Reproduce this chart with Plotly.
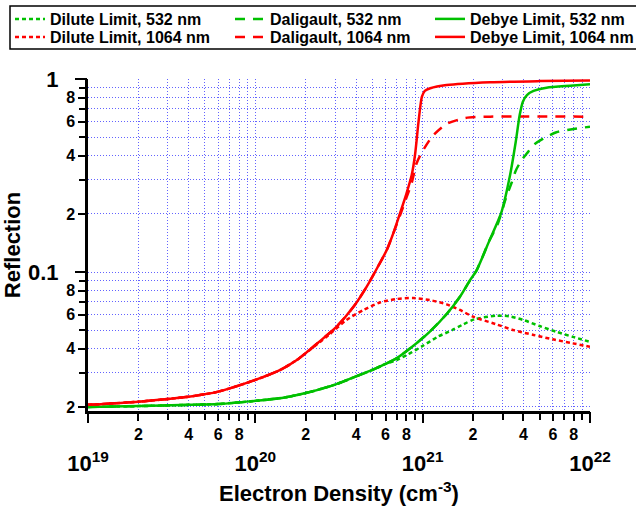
import plotly.graph_objects as go

# ---------------- data ----------------
# 532 nm: part shared by all three models at low density
g_low_n = [1e19, 2e19, 4e19, 6e19, 1e20, 1.5e20, 2e20, 3e20, 4e20, 5e20, 6e20]
g_low_R = [0.0200, 0.0202, 0.0205, 0.0207, 0.0215, 0.0224, 0.0236, 0.0261, 0.0288, 0.0311, 0.0334]

# Debye limit 532 nm
debye532_n = g_low_n + [7e20, 8.8e20, 1.1e21, 1.4e21, 1.67e21, 1.92e21, 2.1e21, 2.5e21,
                        2.96e21, 3.33e21, 3.6e21, 3.8e21, 3.97e21, 4.2e21, 4.6e21, 5.5e21, 7.6e21, 1e22]
debye532_R = g_low_R + [0.0358, 0.0415, 0.049, 0.061, 0.0745, 0.0908, 0.102, 0.145,
                        0.205, 0.318, 0.473, 0.65, 0.763, 0.826, 0.867, 0.902, 0.923, 0.938]

# Daligault 532 nm
dali532_n = debye532_n[:19] + [2.8e21, 3.16e21, 3.4e21, 3.6e21, 3.9e21, 4.2e21, 4.6e21, 5.3e21, 6.3e21, 8e21, 1e22]
dali532_R = debye532_R[:19] + [0.176, 0.245, 0.29, 0.335, 0.38, 0.412, 0.455, 0.493, 0.53, 0.551, 0.566]

# Dilute limit 532 nm
dil532_n = g_low_n + [7e20, 8.2e20, 1e21, 1.23e21, 1.5e21, 1.75e21, 2.04e21, 2.76e21, 3.3e21, 4e21, 5e21, 6.3e21, 8e21, 1e22]
dil532_R = g_low_R + [0.0350, 0.0375, 0.0414, 0.0462, 0.050, 0.0536, 0.0569, 0.0594, 0.059, 0.0564, 0.0525, 0.049, 0.046, 0.0435]

# 1064 nm: shared low-density part
r_low_n = [1e19, 2e19, 3e19, 4e19, 6e19, 1e20, 1.4e20, 1.77e20, 2e20]
r_low_R = [0.0205, 0.0213, 0.0220, 0.0226, 0.0240, 0.0276, 0.031, 0.035, 0.038]

# Debye limit 1064 nm
debye1064_n = r_low_n + [2.33e20, 3.05e20, 3.86e20, 4.63e20, 5.4e20, 6.1e20, 6.68e20,
                         7.3e20, 8.0e20, 8.6e20, 9.0e20, 9.4e20, 9.65e20, 9.9e20, 1.03e21, 1.11e21,
                         1.39e21, 2.53e21, 5e21, 1e22]
debye1064_R = r_low_R + [0.0425, 0.052, 0.066, 0.084, 0.1066, 0.13, 0.159,
                         0.20, 0.255, 0.318, 0.404, 0.578, 0.705, 0.81, 0.867, 0.895,
                         0.93, 0.962, 0.975, 0.982]

# Daligault 1064 nm
dali1064_n = debye1064_n[:16] + [7.3e20, 8.0e20, 8.6e20, 9.2e20, 9.9e20, 1.15e21, 1.39e21, 1.8e21, 2.53e21, 1e22]
dali1064_R = debye1064_R[:16] + [0.195, 0.243, 0.29, 0.366, 0.417, 0.508, 0.585, 0.628, 0.638, 0.638]

# Dilute limit 1064 nm
dil1064_n = r_low_n + [2.75e20, 3.5e20, 4.44e20, 5.6e20, 7.0e20, 8.8e20, 1.1e21, 1.39e21, 1.67e21,
                       2.0e21, 2.72e21, 3.5e21, 4.6e21, 6.0e21, 7.9e21, 1e22]
dil1064_R = r_low_R + [0.0472, 0.0564, 0.0636, 0.0697, 0.0725, 0.0733, 0.0716, 0.068, 0.0636,
                       0.0587, 0.0538, 0.050, 0.0472, 0.0448, 0.0427, 0.041]

# tick values / labels
x_lab_vals = [m * 10.0 ** e for e in (19, 20, 21) for m in (2, 4, 6, 8)]
x_lab_text = [str(m) for e in (19, 20, 21) for m in (2, 4, 6, 8)]
x_other_vals = [m * 10.0 ** e for e in (19, 20, 21) for m in (1, 3, 5, 7, 9)] + [1e22]
x_major_vals = [1e19, 1e20, 1e21, 1e22]
x_major_text = ["10<sup>19</sup>", "10<sup>20</sup>", "10<sup>21</sup>", "10<sup>22</sup>"]

y_lab_vals = [m * 10.0 ** e for e in (-2, -1) for m in (2, 4, 6, 8)]
y_lab_text = [str(m) for e in (-2, -1) for m in (2, 4, 6, 8)]
y_other_vals = [m * 10.0 ** e for e in (-2, -1) for m in (3, 5, 7, 9)] + [0.1, 1.0]
y_major_vals = [0.1, 1.0]
y_major_text = ["0.1", "1"]

# ---------------- figure ----------------
FONT = "Liberation Sans, Arial, Helvetica, sans-serif"
GREEN = "#00c000"
RED = "#ff0000"
DOT = "4px,3px"
DASH = "10px,8px"

fig = go.Figure()


def add(name, n, R, color, dash, legend):
    fig.add_trace(go.Scatter(x=n, y=R, mode="lines", name=name, legend=legend,
                             line=dict(color=color, width=2.5, dash=dash, shape="spline", smoothing=0.7)))


add("Dilute Limit, 532 nm", dil532_n, dil532_R, GREEN, DOT, "legend")
add("Dilute Limit, 1064 nm", dil1064_n, dil1064_R, RED, DOT, "legend2")
add("Daligault, 532 nm", dali532_n, dali532_R, GREEN, DASH, "legend3")
add("Daligault, 1064 nm", dali1064_n, dali1064_R, RED, DASH, "legend4")
add("Debye Limit, 532 nm", debye532_n, debye532_R, GREEN, "solid", "legend5")
add("Debye Limit, 1064 nm", debye1064_n, debye1064_R, RED, "solid", "legend6")

# invisible trace to activate the overlay axes
fig.add_trace(go.Scatter(x=[1e19], y=[0.1], xaxis="x2", yaxis="y2", mode="markers",
                         marker=dict(opacity=0), showlegend=False, hoverinfo="skip"))

GRID = "rgba(60,60,255,0.8)"
bold = dict(family=FONT, color="black", weight="bold")
minor_common = dict(ticks="outside", ticklen=6, tickwidth=2, tickcolor="black",
                    showgrid=True, gridcolor=GRID, gridwidth=1, griddash="1px,2px")

# legend placement (plot area: x 88..590 px, y 79..411 px)
PW, PH, L, B = 502.0, 332.0, 88.0, 411.0
def px_x(p):
    return (p - L) / PW
def px_y(p):
    return (B - p) / PH

col_x = [10, 230, 430]
row_y = [19, 37]
legends = {}
k = 1
for c in col_x:
    for r in row_y:
        key = "legend" if k == 1 else "legend%d" % k
        legends[key] = dict(x=px_x(c), y=px_y(r), xanchor="left", yanchor="middle",
                            bgcolor="rgba(0,0,0,0)", borderwidth=0,
                            font=dict(size=16, **bold), itemwidth=30)
        k += 1

fig.update_layout(
    width=636, height=512,
    margin=dict(l=88, r=46, t=79, b=101, autoexpand=False),
    paper_bgcolor="white", plot_bgcolor="white",
    font=dict(family=FONT, color="black", weight="bold"),
    xaxis=dict(type="log", range=[19, 22], tickmode="array", tickvals=x_lab_vals, ticktext=x_lab_text,
               ticks="outside", ticklen=7, tickwidth=2, tickcolor="black",
               showline=True, linewidth=2.5, linecolor="black",
               showgrid=True, gridcolor=GRID, gridwidth=1, griddash="1px,2px",
               minor=dict(tickmode="array", tickvals=x_other_vals, **minor_common),
               zeroline=False, automargin=False, tickfont=dict(size=16, **bold)),
    xaxis2=dict(type="log", range=[19, 22], overlaying="x", anchor="y", side="bottom",
                tickmode="array", tickvals=x_major_vals, ticktext=x_major_text,
                ticks="outside", ticklen=11, tickwidth=2, tickcolor="black",
                showline=False, showgrid=False, zeroline=False, ticklabelstandoff=22,
                automargin=False, tickfont=dict(size=22, **bold),
                title=dict(text="Electron Density (cm<sup>-3</sup>)", font=dict(size=22, **bold), standoff=10)),
    yaxis=dict(type="log", range=[-1.72, 0], tickmode="array", tickvals=y_lab_vals, ticktext=y_lab_text,
               ticks="outside", ticklen=7, tickwidth=2, tickcolor="black",
               showline=True, linewidth=2.5, linecolor="black",
               showgrid=True, gridcolor=GRID, gridwidth=1, griddash="1px,2px",
               minor=dict(tickmode="array", tickvals=y_other_vals, **minor_common),
               zeroline=False, automargin=False, tickfont=dict(size=16, **bold)),
    yaxis2=dict(type="log", range=[-1.72, 0], overlaying="y", anchor="x", side="left",
                tickmode="array", tickvals=y_major_vals, ticktext=y_major_text,
                ticks="outside", ticklen=12, tickwidth=2, tickcolor="black",
                showline=False, showgrid=False, zeroline=False, ticklabelstandoff=12,
                automargin=False, tickfont=dict(size=22, **bold),
                title=dict(text="Reflection", font=dict(size=22, **bold), standoff=3)),
    shapes=[dict(type="rect", xref="paper", yref="paper", x0=px_x(10), x1=px_x(645),
                 y0=px_y(49), y1=px_y(6),
                 line=dict(color="black", width=1.5), fillcolor="rgba(0,0,0,0)")],
    showlegend=True,
    **legends,
)

fig.write_html("out.html")
